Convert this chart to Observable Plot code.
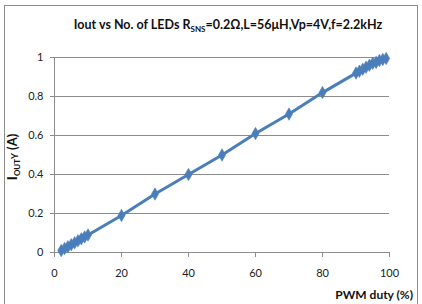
<!DOCTYPE html>
<html>
<head>
<meta charset="utf-8">
<script src="https://cdn.jsdelivr.net/npm/d3@7"></script>
<script src="https://cdn.jsdelivr.net/npm/@observablehq/plot@0.6"></script>
<style>
  body { margin: 0; background: #fff; }
  #wrap { position: relative; width: 422px; height: 304px; overflow: hidden; font-family: Lato, "Open Sans", sans-serif; }
  #frame { position: absolute; left: 4px; top: 5px; width: 414px; height: 320px; border: 1px solid #8c8c8c; box-sizing: border-box; }
  #title { position: absolute; left: 0; width: 456px; top: 17px; text-align: center; font-weight: bold; font-size: 12.5px; color: #111; white-space: nowrap; }
  #title sub { font-size: 8px; vertical-align: -3px; }
  #chart { position: absolute; left: 0; top: 40px; }
  #xlab { position: absolute; right: 9px; top: 287px; font-weight: bold; font-size: 12px; color: #111; white-space: nowrap; }
  #ylab { position: absolute; left: 12px; top: 157px; transform: translate(-50%, -50%) rotate(-90deg); font-weight: bold; font-size: 13px; color: #111; white-space: nowrap; }
  #ylab .big { font-size: 14px; }
  #ylab sub { font-size: 8px; vertical-align: -3px; }
  #ylab .y { font-size: 9px; vertical-align: -1px; }
</style>
</head>
<body>
<div id="wrap">
  <div id="frame"></div>
  <div id="title">Iout vs No. of LEDs R<sub>SNS</sub>=0.2Ω,L=56μH,Vp=4V,f=2.2kHz</div>
  <div id="chart"></div>
  <div id="xlab"></div>
  <div id="ylab"><span class="big">I</span><sub>OUT</sub><span class="y">Y</span> (A)</div>
</div>
<script>
const duty = [2, 3, 4, 5, 6, 7, 8, 9, 10, 20, 30, 40, 50, 60, 70, 80, 90, 91, 92, 93, 94, 95, 96, 97, 98, 99];
const iout = [0.01, 0.02, 0.03, 0.04, 0.05, 0.06, 0.07, 0.08, 0.09, 0.19, 0.30, 0.40, 0.50, 0.61, 0.71, 0.82, 0.92, 0.93, 0.94, 0.95, 0.96, 0.97, 0.975, 0.985, 0.99, 0.995];
const xTicks = [0, 20, 40, 60, 80, 100];
const yTicks = [0, 0.2, 0.4, 0.6, 0.8, 1];
const xLabel = "PWM duty (%)";

document.getElementById("xlab").textContent = xLabel;

const data = duty.map((d, i) => ({duty: d, iout: iout[i]}));
const blue = "#4a7ebb";

const svg = Plot.plot({
  width: 422,
  height: 264,
  marginLeft: 54,
  marginRight: 33,
  marginTop: 17,
  marginBottom: 52,
  style: {fontFamily: "Lato, 'Open Sans', sans-serif", fontSize: "11px", color: "#222", background: "transparent"},
  x: {domain: [0, 100], ticks: xTicks, label: null},
  y: {domain: [0, 1], ticks: yTicks, label: null},
  marks: [
    Plot.gridY(yTicks, {stroke: "#8c8c8c", strokeOpacity: 1, strokeWidth: 1}),
    Plot.ruleX([0], {stroke: "#8c8c8c"}),
    Plot.ruleY([0], {stroke: "#8c8c8c"}),
    Plot.axisX({ticks: xTicks, tickSize: 5, tickPadding: 12, stroke: "#8c8c8c", label: null, fontSize: 11}),
    Plot.axisY({ticks: yTicks, tickSize: 4, tickPadding: 7, stroke: "#8c8c8c", label: null, fontSize: 11, tickFormat: d => String(d)}),
    Plot.line(data, {x: "duty", y: "iout", stroke: blue, strokeWidth: 3}),
    Plot.dot(data, {x: "duty", y: "iout", symbol: "diamond", r: 3.8, fill: blue, stroke: blue, strokeWidth: 0.5})
  ]
});
document.getElementById("chart").appendChild(svg);
</script>
</body>
</html>
